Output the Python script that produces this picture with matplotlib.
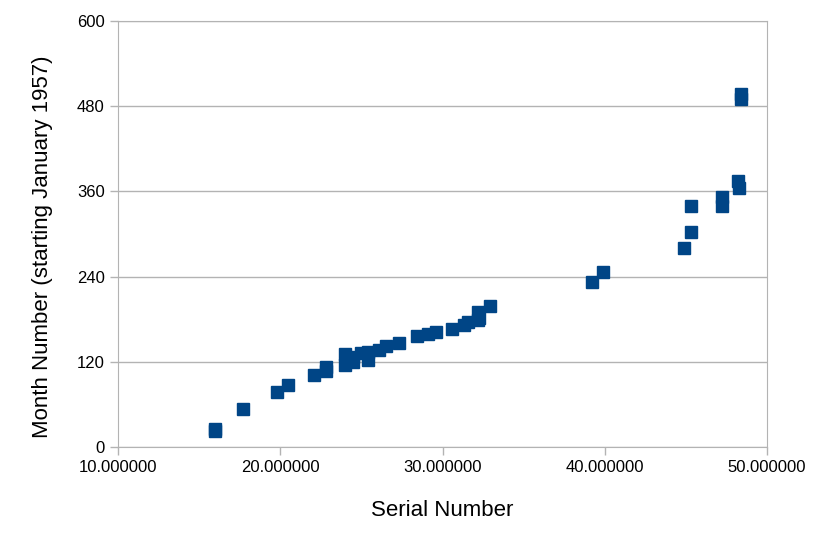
import matplotlib
matplotlib.use('Agg')
import matplotlib.pyplot as plt
from matplotlib.ticker import FuncFormatter

# serial number (millions) vs month number
serial = [15.95, 15.95, 17.73, 19.8, 20.5, 22.08, 22.8, 22.8,
          24.0, 24.0, 24.5, 24.5, 25.0, 25.4, 25.4, 26.1, 26.5, 27.3,
          28.4, 29.1, 29.6, 30.6, 31.3, 31.6, 32.2, 32.2, 32.25, 32.9,
          39.2, 39.9, 44.9, 45.3, 45.3, 47.2, 47.2, 48.2, 48.3, 48.4, 48.4]
month = [23, 26, 53, 77, 87, 101, 107, 112,
         116, 131, 120, 127, 132, 134, 122, 137, 142, 146,
         156, 159, 162, 166, 172, 176, 190, 179, 182, 199,
         232, 246, 280, 303, 340, 352, 339, 375, 365, 497, 490]
serial = [s * 1e6 for s in serial]

plt.rcParams['font.family'] = ['Liberation Sans', 'DejaVu Sans']
grey = '#b3b3b3'

fig = plt.figure(figsize=(8.23, 5.49), dpi=100)
ax = fig.add_axes([0.1434, 0.1858, 0.7886, 0.7759])

ax.plot(serial, month, 's', color='#004586', markersize=8, linestyle='none', zorder=3)

ax.set_xlim(10e6, 50e6)
ax.set_ylim(0, 600)
ax.set_xticks([10e6, 20e6, 30e6, 40e6, 50e6])
ax.set_yticks([0, 120, 240, 360, 480, 600])
ax.xaxis.set_major_formatter(FuncFormatter(lambda v, p: f"{v/1e6:.6f}"))

ax.yaxis.grid(True, color=grey, linewidth=1)
ax.set_axisbelow(True)
for s in ax.spines.values():
    s.set_color(grey)
ax.tick_params(axis='both', colors=grey, length=6, width=1, labelsize=12, labelcolor='black')

ax.set_xlabel('Serial Number', fontsize=16, labelpad=18)
ax.set_ylabel('Month Number (starting January 1957)', fontsize=16)
ax.yaxis.set_label_coords(-0.1, 0.47)

fig.savefig('out.png', dpi=100)
